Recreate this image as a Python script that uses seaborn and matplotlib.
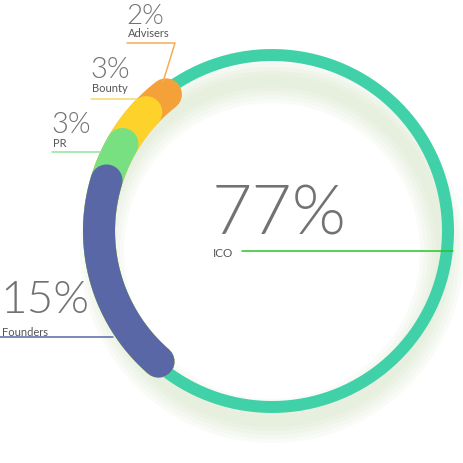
import numpy as np
import matplotlib
matplotlib.use("Agg")
import matplotlib.pyplot as plt
import seaborn as sns

# token distribution (percent)
labels = ["Founders", "PR", "Bounty", "Advisers"]
shares = [15, 3, 3, 2]
ico_label = "ICO"
ico_share = 77

colors = ["#5a67a6", "#78e080", "#fdd22b", "#f4a13a"]
line_colors = ["#5a67a6", "#92e39b", "#f7d96a", "#f6ad55"]
ring_color = "#41d1a8"
text_color = "#727272"

sns.set_style("white")
plt.rcParams["font.family"] = ["Lato", "DejaVu Sans"]

fig = plt.figure(figsize=(4.64, 4.64), dpi=100)
ax = fig.add_axes([0, 0, 1, 1])
ax.set_xlim(0, 464)
ax.set_ylim(464, 0)
ax.axis("off")

px = 0.72  # points per pixel at dpi 100
cx, cy = 272, 232
r_ring = 176
r_arc = 173
start_deg = 229
deg_per_pct = 4.4


def arc_xy(r, a0, a1, x0=cx, y0=cy, n=300):
    t = np.radians(np.linspace(a0, a1, n))
    return x0 + r * np.cos(t), y0 - r * np.sin(t)


# soft shadow under the ring
for w in [44, 36, 28, 20, 12]:
    xs, ys = arc_xy(r_ring - 6, 0, 360, y0=cy + 20)
    sns.lineplot(x=xs, y=ys, sort=False, estimator=None, color="#c9dfb6",
                 alpha=0.10, linewidth=w * px, ax=ax)

# thin ICO ring
xs, ys = arc_xy(r_ring, 0, 360)
sns.lineplot(x=xs, y=ys, sort=False, estimator=None, color=ring_color,
             linewidth=12 * px, ax=ax)

# thick stacked arcs, largest cumulative first
cum = np.cumsum(shares)
for i in range(len(shares) - 1, -1, -1):
    xs, ys = arc_xy(r_arc, start_deg, start_deg - deg_per_pct * cum[i])
    sns.lineplot(x=xs, y=ys, sort=False, estimator=None, color=colors[i],
                 linewidth=32 * px, solid_capstyle="round", ax=ax)

# labels
ax.text(212, 235, f"{ico_share}%", fontsize=50, fontweight=300, color=text_color, va="baseline")
ax.text(213, 257, ico_label, fontsize=8.5, color="#555555", va="baseline")
ax.plot([242, 453], [252, 252], color="#28c428", lw=1.1)

big = [33, 21, 21, 20]
pos = [(0, 313, 336), (51, 133, 147), (90, 78, 92), (126, 24, 37)]
for i, (lab, s) in enumerate(zip(labels, shares)):
    x, yb, yl = pos[i]
    ax.text(x, yb, f"{s}%", fontsize=big[i], fontweight=300, color=text_color, va="baseline")
    ax.text(x + 2, yl, lab, fontsize=8, color="#555555", va="baseline")

ax.plot([0, 113], [338, 338], color=line_colors[0], lw=1.1)
ax.plot([52, 101], [153, 153], color=line_colors[1], lw=1.1)
ax.plot([91, 137], [100, 100], color=line_colors[2], lw=1.1)
ax.plot([127, 175, 163], [44, 44, 83], color=line_colors[3], lw=1.1)

fig.savefig("out.png", dpi=100, facecolor="white")
